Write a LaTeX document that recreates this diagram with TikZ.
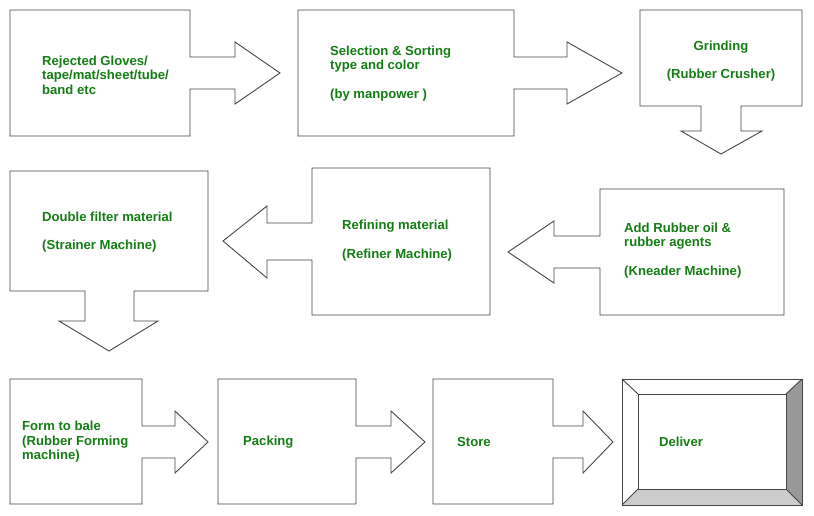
\documentclass[tikz,border=0pt]{standalone}
\usepackage{fontspec}
\setmainfont{Liberation Sans}
\definecolor{txtgreen}{RGB}{20,125,20}
\definecolor{edgegray}{RGB}{70,70,70}
\definecolor{bevdark}{RGB}{153,153,153}
\definecolor{bevlight}{RGB}{204,204,204}
\begin{document}
\begin{tikzpicture}[x=1pt,y=-1pt,
  callout/.style={draw=edgegray,line width=0.9pt,fill=white,line join=miter},
  lbl/.style={text=txtgreen,font=\bfseries\fontsize{13.1}{14.5}\selectfont,inner sep=0pt,align=left,anchor=west},
  clbl/.style={text=txtgreen,font=\bfseries\fontsize{13.1}{14.5}\selectfont,inner sep=0pt,align=center}]
\useasboundingbox (0,0) rectangle (814,516);
\fill[white] (0,0) rectangle (814,516);
% row 1
\draw[callout] (10,10)--(190,10)--(190,57)--(235,57)--(235,42)--(280,73)--(235,104)--(235,89)--(190,89)--(190,136)--(10,136)--cycle;
\draw[callout] (298,10)--(514,10)--(514,57)--(567,57)--(567,42)--(622,73)--(567,104)--(567,89)--(514,89)--(514,136)--(298,136)--cycle;
\draw[callout] (640,10)--(802,10)--(802,106)--(741,106)--(741,131)--(762,131)--(721,154)--(681,131)--(701,131)--(701,106)--(640,106)--cycle;
% row 2
\draw[callout] (10,171)--(208,171)--(208,291)--(134,291)--(134,321)--(158,321)--(109,351)--(59,321)--(85,321)--(85,291)--(10,291)--cycle;
\draw[callout] (312,168)--(490,168)--(490,315)--(312,315)--(312,260)--(267,260)--(267,278)--(223,241)--(267,206)--(267,223)--(312,223)--cycle;
\draw[callout] (600,189)--(784,189)--(784,315)--(600,315)--(600,268)--(554,268)--(554,283)--(508,252)--(554,221)--(554,236)--(600,236)--cycle;
% row 3
\draw[callout] (10,379)--(142,379)--(142,426)--(175,426)--(175,411)--(208,442)--(175,473)--(175,458)--(142,458)--(142,504)--(10,504)--cycle;
\draw[callout] (218,379)--(356,379)--(356,426)--(391,426)--(391,411)--(425,442)--(391,473)--(391,458)--(356,458)--(356,504)--(218,504)--cycle;
\draw[callout] (433,379)--(553,379)--(553,426)--(583,426)--(583,411)--(613,442)--(583,473)--(583,458)--(553,458)--(553,504)--(433,504)--cycle;
% bevel box
\fill[bevdark] (802,379)--(786,394)--(786,489)--(802,505)--cycle;
\fill[bevlight] (622,505)--(638,489)--(786,489)--(802,505)--cycle;
\draw[draw=edgegray,line width=0.9pt] (622,379) rectangle (802,505);
\draw[draw=edgegray,line width=0.9pt] (638,394) rectangle (786,489);
\draw[draw=edgegray,line width=0.9pt] (622,379)--(638,394) (802,379)--(786,394) (622,505)--(638,489) (802,505)--(786,489);
% labels
\node[lbl] (t1) at (42,75) {Rejected Gloves/\\tape/mat/sheet/tube/\\band etc};
\node[lbl] (t2) at (330,73.5) {Selection \& Sorting\\type and color\\[14.5pt](by manpower )};
\node[clbl] (t3) at (721,61) {Grinding\\[14pt](Rubber Crusher)};
\node[lbl] (t4) at (42,232) {Double filter material\\[14pt](Strainer Machine)};
\node[lbl] (t5) at (342,240.5) {Refining material\\[14pt](Refiner Machine)};
\node[lbl] (t6) at (624,250.5) {Add Rubber oil \&\\rubber agents\\[14.5pt](Kneader Machine)};
\node[lbl] (t7) at (22,442) {Form to bale\\(Rubber Forming\\machine)};
\node[lbl] (t8) at (243,442) {Packing};
\node[lbl] (t9) at (457,442) {Store};
\node[lbl] (t10) at (659,442) {Deliver};
\end{tikzpicture}
\end{document}
